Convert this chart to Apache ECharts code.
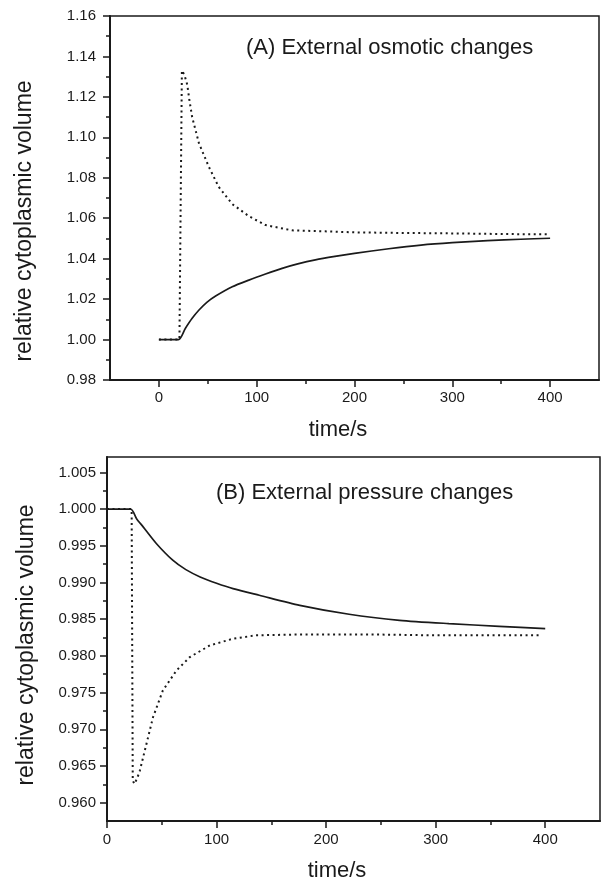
<!DOCTYPE html>
<html>
<head>
<meta charset="utf-8">
<script src="https://cdn.jsdelivr.net/npm/echarts@6/dist/echarts.min.js"></script>
<style>html,body{margin:0;padding:0;background:#fff;}#c{width:602px;height:882px;}</style>
</head>
<body>
<div id="c"></div>
<script>
// ---- Panel A: external osmotic changes ----
var solidA_t = [0, 20, 27, 34, 41, 49, 58, 75, 92, 109, 126, 142, 160, 180, 200, 235, 268, 300, 336, 370, 400];
var solidA_v = [1.000, 1.000, 1.0055, 1.0105, 1.0146, 1.0184, 1.0215, 1.0261, 1.0294, 1.0324, 1.0352, 1.0374, 1.0394, 1.0411, 1.0426, 1.0449, 1.0467, 1.0479, 1.0489, 1.0496, 1.0501];
var dottedA_t = [0, 21, 23.5, 26, 29, 31, 34, 41, 51, 61, 75, 92, 109, 136, 170, 200, 250, 300, 350, 400];
var dottedA_v = [1.000, 1.000, 1.133, 1.131, 1.126, 1.119, 1.110, 1.097, 1.0855, 1.0756, 1.067, 1.061, 1.0566, 1.054, 1.0535, 1.053, 1.0527, 1.0525, 1.0522, 1.052];

// ---- Panel B: external pressure changes ----
var solidB_t = [0, 21.6, 27, 33, 45, 60, 72, 85, 100, 115, 139, 176, 221, 267, 312, 358, 400];
var solidB_v = [1.000, 1.000, 0.9987, 0.99758, 0.99532, 0.99304, 0.99175, 0.99076, 0.98990, 0.98917, 0.98826, 0.98689, 0.98567, 0.98485, 0.9844, 0.98403, 0.98371];
var dottedB_t = [0, 22.5, 23.5, 25, 27.5, 30, 36, 42, 51, 63.5, 75.6, 94, 115, 136, 170, 200, 250, 300, 350, 397];
var dottedB_v = [1.000, 1.000, 0.9630, 0.96255, 0.9633, 0.96437, 0.968, 0.97164, 0.97529, 0.97802, 0.97984, 0.98143, 0.98234, 0.9828, 0.9829, 0.9829, 0.9829, 0.9828, 0.9828, 0.9828];

// ---- tick labels ----
var xMajor = [0, 100, 200, 300, 400];
var xMinor = [50, 150, 250, 350];
var yMajorB = [0.960, 0.965, 0.970, 0.975, 0.980, 0.985, 0.990, 0.995, 1.000, 1.005];
var yMinorB = [0.9625, 0.9675, 0.9725, 0.9775, 0.9825, 0.9875, 0.9925, 0.9975, 1.0025];

var titleA = '(A) External osmotic changes';
var titleB = '(B) External pressure changes';
var xName = 'time/s';
var yName = 'relative cytoplasmic volume';

function pairs(t, v) { return t.map(function (x, i) { return [x, v[i]]; }); }

var INK = '#1a1a1a';
var FONT = '"Liberation Sans", Arial, sans-serif';
var lab = { color: INK, fontFamily: FONT, fontSize: 15 };

function majorX(grid, min, max, margin) {
  return {
    type: 'value', gridIndex: grid, min: min, max: max,
    axisLine: { show: true, onZero: false, lineStyle: { color: INK, width: 2 } },
    axisTick: { show: true, customValues: xMajor, length: 7, lineStyle: { color: INK, width: 1.5 } },
    axisLabel: Object.assign({ customValues: xMajor, margin: margin }, lab),
    splitLine: { show: false }
  };
}
function minorX(grid, min, max) {
  return {
    type: 'value', gridIndex: grid, min: min, max: max, position: 'bottom',
    axisLine: { show: false, onZero: false },
    axisTick: { show: true, customValues: xMinor, length: 4, lineStyle: { color: INK, width: 1.5 } },
    axisLabel: { show: false },
    splitLine: { show: false }
  };
}

var option = {
  animation: false,
  backgroundColor: '#fff',
  grid: [
    { left: 110, top: 16, right: 3, height: 364, show: true, borderColor: INK, borderWidth: 1.5 },
    { left: 107, top: 457, right: 2, height: 364, show: true, borderColor: INK, borderWidth: 1.5 }
  ],
  xAxis: [
    majorX(0, -50, 450, 10),
    minorX(0, -50, 450),
    majorX(1, 0, 450, 11),
    minorX(1, 0, 450)
  ],
  yAxis: [
    {
      type: 'value', gridIndex: 0, min: 0.98, max: 1.16, interval: 0.02,
      axisLine: { show: true, onZero: false, lineStyle: { color: INK, width: 2 } },
      axisTick: { show: true, length: 7, lineStyle: { color: INK, width: 1.5 } },
      minorTick: { show: true, splitNumber: 2, length: 4, lineStyle: { color: INK, width: 1.5 } },
      axisLabel: Object.assign({ margin: 14, formatter: function (v) { return v.toFixed(2); } }, lab),
      splitLine: { show: false }, minorSplitLine: { show: false }
    },
    {
      type: 'value', gridIndex: 1, min: 0.9575, max: 1.0071,
      axisLine: { show: true, onZero: false, lineStyle: { color: INK, width: 2 } },
      axisTick: { show: true, customValues: yMajorB, length: 7, lineStyle: { color: INK, width: 1.5 } },
      axisLabel: Object.assign({ customValues: yMajorB, margin: 11, formatter: function (v) { return v.toFixed(3); } }, lab),
      splitLine: { show: false }
    },
    {
      type: 'value', gridIndex: 1, min: 0.9575, max: 1.0071, position: 'left',
      axisLine: { show: false, onZero: false },
      axisTick: { show: true, customValues: yMinorB, length: 4, lineStyle: { color: INK, width: 1.5 } },
      axisLabel: { show: false },
      splitLine: { show: false }
    }
  ],
  series: [
    { type: 'line', xAxisIndex: 0, yAxisIndex: 0, data: pairs(solidA_t, solidA_v), showSymbol: false,
      smooth: 0.25, lineStyle: { color: INK, width: 1.7 } },
    { type: 'line', xAxisIndex: 0, yAxisIndex: 0, data: pairs(dottedA_t, dottedA_v), showSymbol: false,
      lineStyle: { color: INK, width: 2, type: [2, 3.5] } },
    { type: 'line', xAxisIndex: 2, yAxisIndex: 1, data: pairs(solidB_t, solidB_v), showSymbol: false,
      smooth: 0.25, lineStyle: { color: INK, width: 1.7 } },
    { type: 'line', xAxisIndex: 2, yAxisIndex: 1, data: pairs(dottedB_t, dottedB_v), showSymbol: false,
      lineStyle: { color: INK, width: 2, type: [2, 3.5] } }
  ],
  graphic: [
    { type: 'text', x: 246, y: 48, style: { text: titleA, fill: INK, font: '22px ' + FONT, textAlign: 'left', textVerticalAlign: 'middle' } },
    { type: 'text', x: 216, y: 493, style: { text: titleB, fill: INK, font: '22px ' + FONT, textAlign: 'left', textVerticalAlign: 'middle' } },
    { type: 'text', x: 338, y: 430, style: { text: xName, fill: INK, font: '22px ' + FONT, textAlign: 'center', textVerticalAlign: 'middle' } },
    { type: 'text', x: 337, y: 871, style: { text: xName, fill: INK, font: '22px ' + FONT, textAlign: 'center', textVerticalAlign: 'middle' } },
    { type: 'text', x: 25, y: 221, rotation: Math.PI / 2, style: { text: yName, fill: INK, font: '23px ' + FONT, textAlign: 'center', textVerticalAlign: 'middle' } },
    { type: 'text', x: 27, y: 645, rotation: Math.PI / 2, style: { text: yName, fill: INK, font: '23px ' + FONT, textAlign: 'center', textVerticalAlign: 'middle' } }
  ]
};

var chart = echarts.init(document.getElementById('c'), null, { renderer: 'canvas' });
chart.setOption(option);
</script>
</body>
</html>
